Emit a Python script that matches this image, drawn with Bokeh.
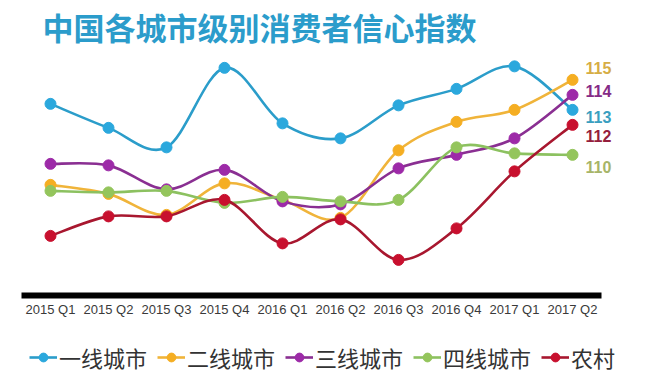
import numpy as np
from bokeh.plotting import figure
from bokeh.models import ColumnDataSource, Legend, LegendItem, LabelSet, Label, FixedTicker
from bokeh.embed import file_html
from bokeh.resources import INLINE
from bokeh.core.properties import value

# ---------------- data ----------------
title_text = "中国各城市级别消费者信心指数"
quarters = ["2015 Q1", "2015 Q2", "2015 Q3", "2015 Q4", "2016 Q1",
            "2016 Q2", "2016 Q3", "2016 Q4", "2017 Q1", "2017 Q2"]
series_names = ["一线城市", "二线城市", "三线城市", "四线城市", "农村"]
tier1 = [113.4, 111.8, 110.5, 115.8, 112.1, 111.1, 113.3, 114.4, 115.9, 113]
tier2 = [108.0, 107.4, 106.0, 108.1, 107.0, 105.8, 110.3, 112.2, 113.0, 115]
tier3 = [109.4, 109.3, 107.7, 109.0, 106.9, 106.7, 109.1, 110.0, 111.1, 114]
tier4 = [107.6, 107.5, 107.6, 106.8, 107.2, 106.9, 107.0, 110.5, 110.1, 110]
rural = [104.6, 105.9, 105.9, 107.0, 104.1, 105.7, 103.0, 105.1, 108.9, 112]
all_series = [tier1, tier2, tier3, tier4, rural]

# ---------------- styles / layout ----------------
line_colors = ["#2b9dca", "#f0b43a", "#8a2f92", "#8cc160", "#a8172f"]
marker_colors = ["#2ba8dd", "#f5ae22", "#9d2aa8", "#94c55c", "#c8102e"]
label_colors = ["#3a9fc0", "#d6ad45", "#852b87", "#a7b569", "#951e3c"]
label_dy = [-7, 12, 4, -12, -11]  # screen px, to keep end labels apart

X_RANGE = (-0.862, 10.31)
Y_RANGE = (94.56, 120.29)   # frame covers the whole canvas
Y_AXIS = 100.63             # level at which the x axis line is drawn
AXIS_BOUNDS = (-0.5, 9.5)

p = figure(width=648, height=386, x_range=X_RANGE, y_range=Y_RANGE,
           output_backend="svg", toolbar_location=None, y_axis_location=None,
           min_border_left=0, min_border_right=0, min_border_top=0,
           min_border_bottom=0)
p.outline_line_color = None
p.grid.visible = False
p.background_fill_color = "white"
p.border_fill_color = "white"

p.add_layout(Label(x=42, y=360, x_units="screen", y_units="screen", text=title_text,
                   text_font="Noto Sans CJK SC", text_font_size="31px",
                   text_font_style="bold", text_color="#2b9ccb",
                   text_align="left", text_baseline="middle"))

xs = list(range(len(quarters)))
ax = p.xaxis[0]
ax.fixed_location = Y_AXIS
ax.ticker = FixedTicker(ticks=xs)
ax.bounds = AXIS_BOUNDS
ax.major_label_overrides = {i: q for i, q in enumerate(quarters)}
ax.axis_line_color = "black"
ax.axis_line_width = 6
ax.major_tick_line_color = None
ax.minor_tick_line_color = None
ax.major_tick_out = 0
ax.major_tick_in = 0
ax.major_label_standoff = 7
ax.major_label_text_font = "Liberation Sans"
ax.major_label_text_font_size = "13px"
ax.major_label_text_color = "#3a3a3a"


def bezier_segments(x, y):
    x = np.asarray(x, float)
    y = np.asarray(y, float)
    n = len(x)
    xp = np.concatenate([[x[0]], x, [x[-1]]])
    yp = np.concatenate([[y[0]], y, [y[-1]]])
    seg = dict(x0=[], y0=[], x1=[], y1=[], cx0=[], cy0=[], cx1=[], cy1=[])
    for i in range(n - 1):
        a, b, c, d = i, i + 1, i + 2, i + 3
        seg["x0"].append(xp[b]); seg["y0"].append(yp[b])
        seg["x1"].append(xp[c]); seg["y1"].append(yp[c])
        seg["cx0"].append(xp[b] + (xp[c] - xp[a]) / 6)
        seg["cy0"].append(yp[b] + (yp[c] - yp[a]) / 6)
        seg["cx1"].append(xp[c] - (xp[d] - xp[b]) / 6)
        seg["cy1"].append(yp[c] - (yp[d] - yp[b]) / 6)
    return seg


items = []
for name, ys, lc, mc in zip(series_names, all_series, line_colors, marker_colors):
    seg_src = ColumnDataSource(bezier_segments(xs, ys))
    br = p.bezier(x0="x0", y0="y0", x1="x1", y1="y1", cx0="cx0", cy0="cy0",
                  cx1="cx1", cy1="cy1", source=seg_src, line_color=lc, line_width=2.6)
    sr = p.scatter(xs, ys, size=11, marker="circle", fill_color=mc, line_color=mc)
    items.append(LegendItem(label=name, renderers=[br, sr]))

legend = Legend(items=items, orientation="horizontal", location=(29, 13),
                glyph_width=28, glyph_height=22, label_standoff=2, spacing=10,
                padding=0, margin=0, border_line_color=None,
                background_fill_alpha=0,
                label_text_font="Noto Sans CJK SC", label_text_font_size="22px",
                label_text_color="#333333", label_height=22)
p.add_layout(legend, "center")

end_src = ColumnDataSource(dict(
    x=[xs[-1]] * len(all_series),
    y=[s[-1] for s in all_series],
    text=[str(int(s[-1])) for s in all_series],
    color=label_colors,
    dy=label_dy,
))
p.add_layout(LabelSet(x="x", y="y", text="text", source=end_src, x_offset=13,
                      y_offset="dy", text_color="color", text_align="left",
                      text_baseline="middle", text_font=value("Liberation Sans"),
                      text_font_size="16px", text_font_style="bold"))

open("out.html", "w").write(file_html(p, INLINE))
